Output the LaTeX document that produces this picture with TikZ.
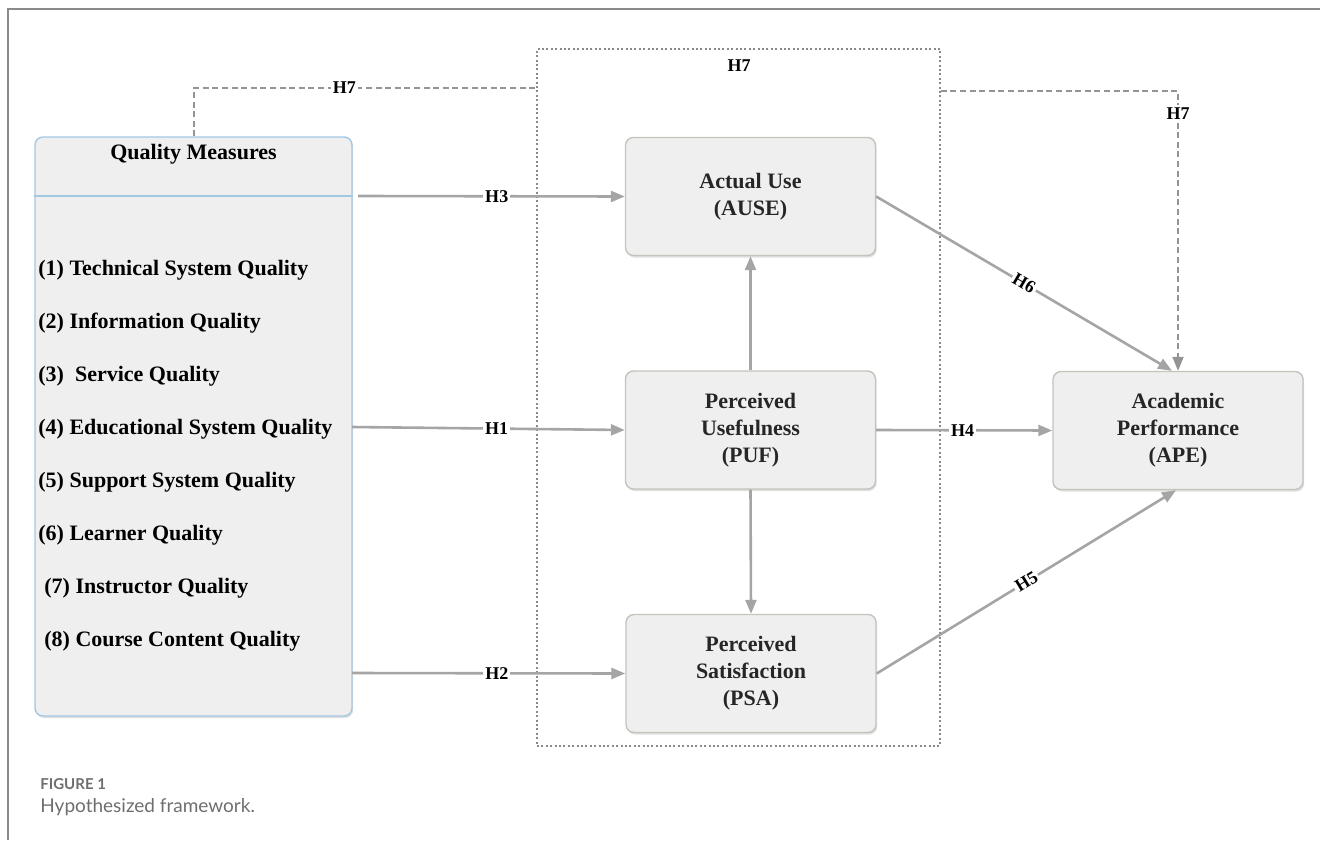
\documentclass[tikz,border=0pt]{standalone}
\usepackage{fontspec}
\setmainfont{Liberation Serif}
\newfontfamily\capfont{Lato}
\usetikzlibrary{arrows.meta,shadows}
\definecolor{boxfill}{HTML}{EFEFEF}
\definecolor{boxline}{HTML}{C4C4BC}
\definecolor{qmline}{HTML}{A3C8E4}
\definecolor{arr}{HTML}{A5A5A5}
\definecolor{framegray}{HTML}{8A8A8A}
\definecolor{capgray}{HTML}{6E6E6E}

\begin{document}
\begin{tikzpicture}[x=0.5pt,y=-0.5pt,
  construct/.style={draw=boxline,fill=boxfill,rounded corners=4pt,line width=0.7pt,minimum width=125pt,minimum height=59pt,inner sep=0pt,align=center,font=\bfseries\fontsize{11}{13.5}\selectfont,text=black!85,drop shadow={opacity=0.25,shadow xshift=0.6pt,shadow yshift=-1pt}},
  hyp/.style={draw=arr,line width=1.3pt,-{Triangle[length=7pt,width=5.5pt]}},
  hlab/.style={fill=white,inner sep=1pt,font=\bfseries\fontsize{9}{10}\selectfont},
  mediator/.style={draw=framegray,line width=0.8pt,dash pattern=on 1pt off 1.2pt},
  indirect/.style={draw=arr!90!black,line width=1pt,dash pattern=on 3pt off 1.8pt}]
\useasboundingbox (0,0) rectangle (1320,840);
\draw[framegray,line width=1pt] (8,840) -- (8,9) -- (1320,9);

\node[mediator,minimum width=201.5pt,minimum height=348.5pt,inner sep=0pt] (med) at (738.5,397.5) {};
\node[font=\bfseries\fontsize{9}{10}\selectfont] (h7mid) at (739,66) {H7};

\node[draw=qmline,fill=boxfill,rounded corners=4pt,line width=0.7pt,minimum width=158.5pt,minimum height=289.5pt,drop shadow={opacity=0.25,shadow xshift=0.6pt,shadow yshift=-1pt}] (qm) at (193.5,426.5) {};
\coordinate (sep) at (0,196);
\draw[qmline,line width=0.7pt] (qm.west |- sep) -- (qm.east |- sep);
\node[font=\bfseries\fontsize{11}{13}\selectfont] (qmtitle) at (193.5,154) {Quality Measures};
\foreach \qmtext [count=\i] in {{(1) Technical System Quality},{(2) Information Quality},{(3)\ \ Service Quality},{(4) Educational System Quality},{(5) Support System Quality},{(6) Learner Quality},{\hspace{3pt}(7) Instructor Quality},{\hspace{3pt}(8) Course Content Quality}}
  \node[anchor=west,inner sep=0pt,font=\bfseries\fontsize{11}{13}\selectfont] (qm\i) at (38,217+53*\i) {\qmtext};

\node[construct] (ause) at (750.5,196.5) {Actual Use\\(AUSE)};
\node[construct] (puf) at (750.5,430) {Perceived\\Usefulness\\(PUF)};
\node[construct] (psa) at (751,673.5) {Perceived\\Satisfaction\\(PSA)};
\node[construct] (ape) at (1178,430.5) {Academic\\Performance\\(APE)};

\coordinate (q3) at (358,196);
\coordinate (q1) at (352,427);
\coordinate (q2) at (352,673);
\draw[hyp] (q3) -- node[hlab,pos=0.52]{H3} (ause.west);
\draw[hyp] (q1) -- node[hlab,pos=0.53]{H1} (puf.west);
\draw[hyp] (q2) -- node[hlab,pos=0.53]{H2} (psa.west);
\draw[hyp] (puf.north) -- (ause.south);
\draw[hyp] (puf.south) -- (psa.north);
\draw[hyp] (puf.east) -- node[hlab,pos=0.49]{H4} (ape.west);
\draw[hyp] (ause.east) -- node[hlab,sloped,pos=0.5]{H6} ([xshift=-3pt]ape.north);
\draw[hyp] (psa.east) -- node[hlab,sloped,pos=0.5]{H5} ([xshift=-1pt]ape.south);

\coordinate (h7l) at (med.west |- 0,88);
\coordinate (h7r) at (med.east |- 0,91);
\draw[indirect] (qm.north) |- node[hlab,pos=0.72]{H7} (h7l);
\draw[indirect,-{Triangle[length=7pt,width=5.5pt]}] (h7r) -| node[hlab,pos=0.54]{H7} (ape.north);

\node[anchor=west,inner sep=0pt,font=\capfont\bfseries\fontsize{7.5}{9}\selectfont,text=capgray] (fig) at (40,784) {FIGURE 1};
\node[anchor=west,inner sep=0pt,font=\capfont\fontsize{9.5}{11}\selectfont,text=capgray] (cap) at (40,807) {Hypothesized framework.};
\end{tikzpicture}
\end{document}
